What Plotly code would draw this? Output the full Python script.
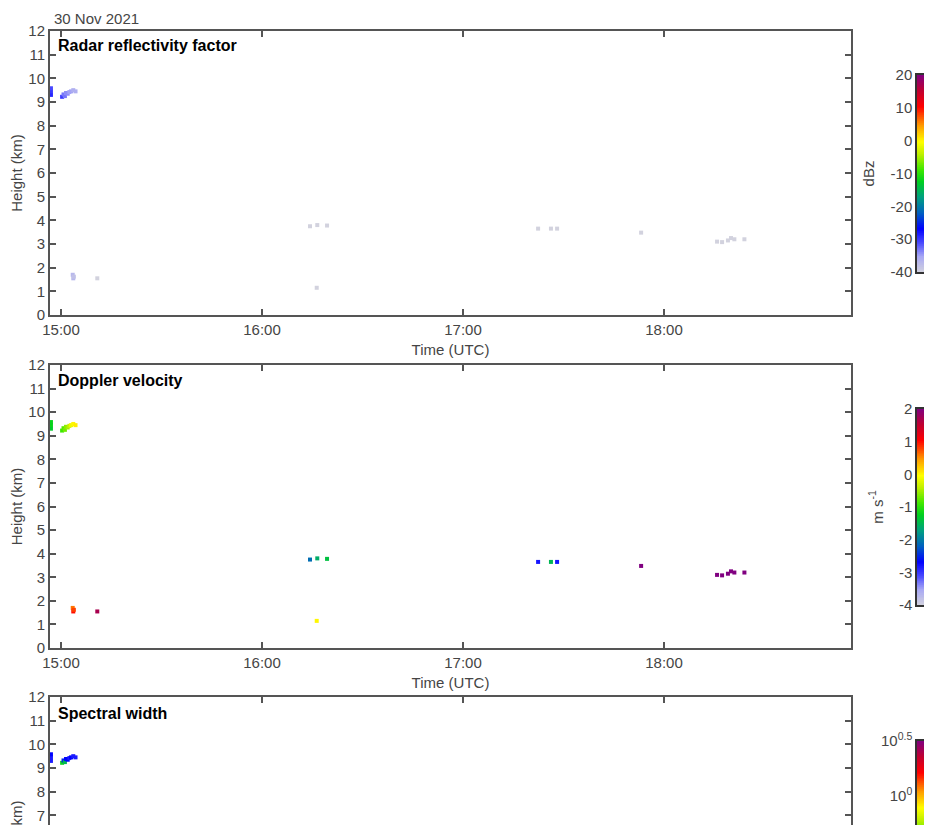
import numpy as np
import plotly.graph_objects as go

DATE = "2021-11-30"

# ---- data ----
times = ["14:57:00", "14:57:00", "14:57:00",
         "15:00:20", "15:00:45", "15:01:10", "15:01:30", "15:02:00", "15:02:30", "15:03:00", "15:03:40", "15:04:20",
         "15:03:30", "15:03:40", "15:03:50", "15:10:50",
         "16:14:20", "16:16:30", "16:19:25", "16:16:20",
         "17:22:25", "17:26:15", "17:28:05",
         "17:53:10",
         "18:15:50", "18:17:20", "18:19:05", "18:20:00", "18:21:00", "18:24:00"]
heights_km = [9.30, 9.45, 9.58,
              9.22, 9.32, 9.25, 9.38, 9.35, 9.42, 9.45, 9.50, 9.45,
              1.70, 1.55, 1.62, 1.55,
              3.75, 3.80, 3.78, 1.15,
              3.65, 3.65, 3.65,
              3.48,
              3.10, 3.08, 3.15, 3.25, 3.20, 3.20]
reflectivity_dbz = [-29, -30, -31,
                    -30, -33, -33, -34, -34, -35, -35, -36, -36,
                    -37, -37, -38, -40,
                    -40, -40, -40, -40,
                    -40, -40, -40,
                    -40,
                    -40, -40, -40, -40, -40, -40]
velocity_ms = [-1.3, -1.2, -1.2,
               -0.9, -0.8, -0.7, -0.6, -0.5, -0.35, -0.15, 0.0, 0.05,
               0.6, 1.0, 0.8, 1.7,
               -2.1, -1.6, -1.4, 0.0,
               -2.8, -1.5, -2.8,
               2.0,
               2.0, 2.0, 2.0, 2.0, 2.0, 2.0]
width_log10 = [-0.95, -0.95, -0.9,
               -0.45, -0.85, -0.55, -0.9, -0.9, -0.95, -0.9, -0.95, -0.95,
               -1.0, -1.0, -1.0, -1.0,
               -1.0, -1.0, -1.0, -1.0,
               -1.0, -1.0, -1.0,
               -1.0,
               -1.0, -1.0, -1.0, -1.0, -1.0, -1.0]

hour_ticks = ["15:00", "16:00", "17:00", "18:00"]
height_ticks = list(range(0, 13))
dbz_ticks = [-40, -30, -20, -10, 0, 10, 20]
vel_ticks = [-4, -3, -2, -1, 0, 1, 2]
width_ticks = [0, 0.5]
width_ticklabels = ["10<sup>0</sup>", "10<sup>0.5</sup>"]

DBZ_RANGE = (-40, 20)
VEL_RANGE = (-4, 2)
WID_RANGE = (-1.3, 0.5)

# ---- styling ----
OFF = 8                    # page body margin in the browser
W, H = 932 - OFF, 825 - OFF
FONT = "Liberation Sans, Arial, Helvetica, sans-serif"
TXT = "#454545"
LINE = "#555555"

cscale = [
    [0.00, "#d2d2de"], [0.08, "#a8a8f4"], [0.15, "#4848ff"], [0.22, "#0000ff"],
    [0.30, "#0060c0"], [0.38, "#00a080"], [0.46, "#00d020"], [0.52, "#40e800"],
    [0.60, "#c0f000"], [0.66, "#ffff00"], [0.74, "#ffa000"], [0.79, "#ff5000"],
    [0.84, "#ff0000"], [0.92, "#c00030"], [1.00, "#800080"],
]


def px_y(p):
    return 1 - (p - OFF) / H


def px_x(p):
    return (p - OFF) / W


t_full = [f"{DATE} {t}" for t in times]
x_range = [f"{DATE} 14:56:43", f"{DATE} 18:55:49"]
x_dom = [px_x(50), px_x(851)]

fig = go.Figure()

panels = [
    (reflectivity_dbz, "coloraxis", "x", "y"),
    (velocity_ms, "coloraxis2", "x2", "y2"),
    (width_log10, "coloraxis3", "x3", "y3"),
]
for vals, cax, xa, ya in panels:
    fig.add_trace(go.Scatter(
        x=t_full, y=heights_km, mode="markers",
        marker=dict(symbol="square", size=4, color=vals, coloraxis=cax, line=dict(width=0)),
        xaxis=xa, yaxis=ya, showlegend=False, hoverinfo="skip"))

# colour bars drawn as heatmaps on their own small axes, sharing the colour axes
for (lo, hi), cax, xa, ya in [(DBZ_RANGE, "coloraxis", "x4", "y4"),
                              (VEL_RANGE, "coloraxis2", "x5", "y5"),
                              (WID_RANGE, "coloraxis3", "x6", "y6")]:
    levels = np.linspace(lo, hi, 301)
    fig.add_trace(go.Heatmap(
        x=[0], y=levels, z=[[v] for v in levels], coloraxis=cax,
        xaxis=xa, yaxis=ya, showscale=False, hoverinfo="skip"))

common_x = dict(
    type="date", range=x_range, domain=x_dom, automargin=False,
    tickvals=[f"{DATE} {h}" for h in hour_ticks], ticktext=hour_ticks,
    ticks="inside", ticklen=6, tickwidth=1.5, tickcolor=LINE,
    showline=True, linecolor=LINE, linewidth=2, showgrid=False, zeroline=False,
    tickfont=dict(family=FONT, size=15, color=TXT),
)
common_y = dict(
    tickvals=height_ticks, ticks="inside", ticklen=6, tickwidth=1.5, tickcolor=LINE,
    showline=True, linecolor=LINE, linewidth=2, mirror="allticks", automargin=False,
    showgrid=False, zeroline=False, tickfont=dict(family=FONT, size=15, color=TXT),
)
title_font = dict(family=FONT, size=15, color=TXT)

layout = dict(
    width=W, height=H, margin=dict(l=0, r=0, t=0, b=0, autoexpand=False),
    paper_bgcolor="white", plot_bgcolor="white",
    font=dict(family=FONT, size=15, color=TXT),
    xaxis=dict(**common_x, anchor="y", mirror="allticks",
               title=dict(text="Time (UTC)", font=title_font, standoff=7)),
    yaxis=dict(**common_y, anchor="x", range=[0, 12], domain=[px_y(315), px_y(31)],
               title=dict(text="Height (km)", font=title_font, standoff=8)),
    xaxis2=dict(**common_x, anchor="y2", mirror="allticks",
                title=dict(text="Time (UTC)", font=title_font, standoff=7)),
    yaxis2=dict(**common_y, anchor="x2", range=[0, 12], domain=[px_y(648), px_y(365)],
                title=dict(text="Height (km)", font=title_font, standoff=8)),
    xaxis3=dict(**common_x, anchor="y3", side="top", showticklabels=False),
    yaxis3=dict(**common_y, anchor="x3", range=[12 - (825 - 697) / 23.67, 12], domain=[0, px_y(697)]),
)

cb_x = [px_x(917), 1.0]
cb_common_x = dict(domain=cb_x, range=[-0.5, 0.5], showticklabels=False, ticks="",
                   showgrid=False, zeroline=False, showline=True, linecolor="#333333",
                   linewidth=1.5, fixedrange=True, automargin=False)
cb_common_y = dict(ticks="", showgrid=False, zeroline=False, showline=True,
                   linecolor="#333333", linewidth=1.5, mirror=True, side="left",
                   automargin=False, tickfont=dict(family=FONT, size=15, color=TXT))
layout.update(
    xaxis4=dict(**cb_common_x, anchor="y4", mirror=True),
    yaxis4=dict(**cb_common_y, anchor="x4", range=list(DBZ_RANGE), tickvals=dbz_ticks,
                ticktext=[str(v) for v in dbz_ticks],
                domain=[px_y(272), px_y(75)],
                title=dict(text="dBz", font=title_font, standoff=12)),
    xaxis5=dict(**cb_common_x, anchor="y5", mirror=True),
    yaxis5=dict(**cb_common_y, anchor="x5", range=list(VEL_RANGE), tickvals=vel_ticks,
                ticktext=[str(v) for v in vel_ticks],
                domain=[px_y(605), px_y(409)],
                title=dict(text="m s<sup>-1</sup>", font=title_font, standoff=12)),
    xaxis6=dict(**cb_common_x, anchor="y6", side="top"),
    yaxis6=dict(**cb_common_y, anchor="x6",
                range=[WID_RANGE[1] - (825 - 741) / (197 / (WID_RANGE[1] - WID_RANGE[0])), WID_RANGE[1]],
                tickvals=width_ticks, ticktext=width_ticklabels, domain=[0, px_y(741)]),
)
for i, rng in zip(["", "2", "3"], [DBZ_RANGE, VEL_RANGE, WID_RANGE]):
    layout[f"coloraxis{i}"] = dict(colorscale=cscale, cmin=rng[0], cmax=rng[1], showscale=False)

fig.update_layout(**layout)

bold = dict(family=FONT, size=16, color="black")
annots = [
    dict(text="30 Nov 2021", x=px_x(52), y=px_y(18), xanchor="left", yanchor="middle",
         font=dict(family=FONT, size=15, color=TXT)),
    dict(text="<b>Radar reflectivity factor</b>", x=px_x(56), y=px_y(46), xanchor="left",
         yanchor="middle", font=bold),
    dict(text="<b>Doppler velocity</b>", x=px_x(56), y=px_y(381), xanchor="left",
         yanchor="middle", font=bold),
    dict(text="<b>Spectral width</b>", x=px_x(56), y=px_y(713), xanchor="left",
         yanchor="middle", font=bold),
    dict(text="Height (km)", x=px_x(16), y=px_y(839), textangle=-90, xanchor="center",
         yanchor="middle", font=title_font),
    dict(text="m s<sup>-1</sup>", x=px_x(878), y=px_y(842), textangle=-90, xanchor="center",
         yanchor="middle", font=title_font),
]
for a in annots:
    fig.add_annotation(xref="paper", yref="paper", showarrow=False, **a)

fig.write_html("out.html")
